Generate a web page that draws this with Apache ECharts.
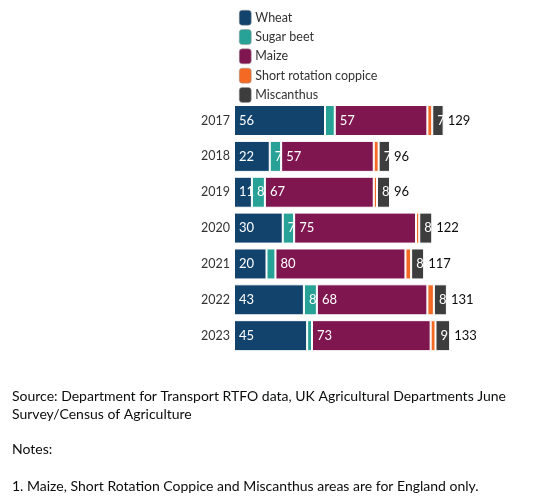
<!DOCTYPE html>
<html>
<head>
<meta charset="utf-8">
<script src="https://cdn.jsdelivr.net/npm/echarts@6/dist/echarts.min.js"></script>
<style>
  html, body { margin: 0; padding: 0; background: #fff; }
  #chart { width: 534px; height: 503px; }
</style>
</head>
<body>
<div id="chart"></div>
<script>
// years on the y axis
const years = ['2017', '2018', '2019', '2020', '2021', '2022', '2023']
// area by crop (thousand hectares)
const wheat = [56, 22, 11, 30, 20, 43, 45]
const sugarBeet = [6, 7, 8, 7, 5.5, 8, 3]
const maize = [57, 57, 67, 75, 80, 68, 73]
const src = [3, 3, 2, 2, 3.5, 4, 3]
const miscanthus = [7, 7, 8, 8, 8, 8, 9]
const totals = [129, 96, 96, 122, 117, 131, 133]

const colors = ['#12436d', '#28a197', '#801650', '#f46a25', '#3d3d3d']
const font = 'Lato'

const makeSeries = (name, data, idx) => ({
  name: name,
  type: 'bar',
  stack: 'total',
  barWidth: 31,
  data: data,
  itemStyle: { color: colors[idx], borderColor: '#fff', borderWidth: 1 },
  label: {
    show: idx !== 3,
    position: 'insideLeft',
    distance: 5,
    color: '#fff',
    fontFamily: font,
    fontSize: 13,
    // too small to label in the original
    formatter: p => (p.value < 7 ? '' : Math.round(p.value))
  }
})

const chart = echarts.init(document.getElementById('chart'))
const option = {
  animation: false,
  textStyle: { fontFamily: font },
  legend: {
    orient: 'vertical',
    left: 234,
    top: 5,
    itemWidth: 12,
    itemHeight: 15,
    itemGap: 3.8,
    data: ['Wheat', 'Sugar beet', 'Maize', 'Short rotation coppice', 'Miscanthus'],
    itemStyle: { borderColor: '#999', borderWidth: 0.5 },
    textStyle: { color: '#333', fontSize: 12.5, fontFamily: font, padding: [0, 0, 0, -1] }
  },
  title: [
    { text: 'Source: Department for Transport RTFO data, UK Agricultural Departments June', left: 12, top: 389 },
    { text: 'Survey/Census of Agriculture', left: 12, top: 407 },
    { text: 'Notes:', left: 12, top: 442 },
    { text: '1. Maize, Short Rotation Coppice and Miscanthus areas are for England only.', left: 12, top: 479 }
  ].map(t => Object.assign(t, {
    padding: 0,
    textStyle: { color: '#0b0c0c', fontSize: 14, fontWeight: 'normal', fontFamily: font }
  })),
  grid: { left: 234, top: 102.6, height: 251, width: 260 },
  xAxis: { type: 'value', min: 0, max: 160, show: false },
  yAxis: {
    type: 'category',
    data: years,
    inverse: true,
    axisLine: { show: false },
    axisTick: { show: false },
    axisLabel: { color: '#333', fontSize: 12.5, margin: 4, fontFamily: font }
  },
  series: [
    makeSeries('Wheat', wheat, 0),
    makeSeries('Sugar beet', sugarBeet, 1),
    makeSeries('Maize', maize, 2),
    makeSeries('Short rotation coppice', src, 3),
    makeSeries('Miscanthus', miscanthus, 4),
    {
      name: 'Total',
      type: 'bar',
      stack: 'total',
      barWidth: 31,
      data: totals.map(() => 0),
      itemStyle: { color: 'transparent' },
      label: {
        show: true,
        position: 'right',
        distance: 4,
        color: '#0b0c0c',
        fontSize: 13,
        fontFamily: font,
        formatter: p => totals[p.dataIndex]
      }
    }
  ]
}
chart.setOption(option)
</script>
</body>
</html>
